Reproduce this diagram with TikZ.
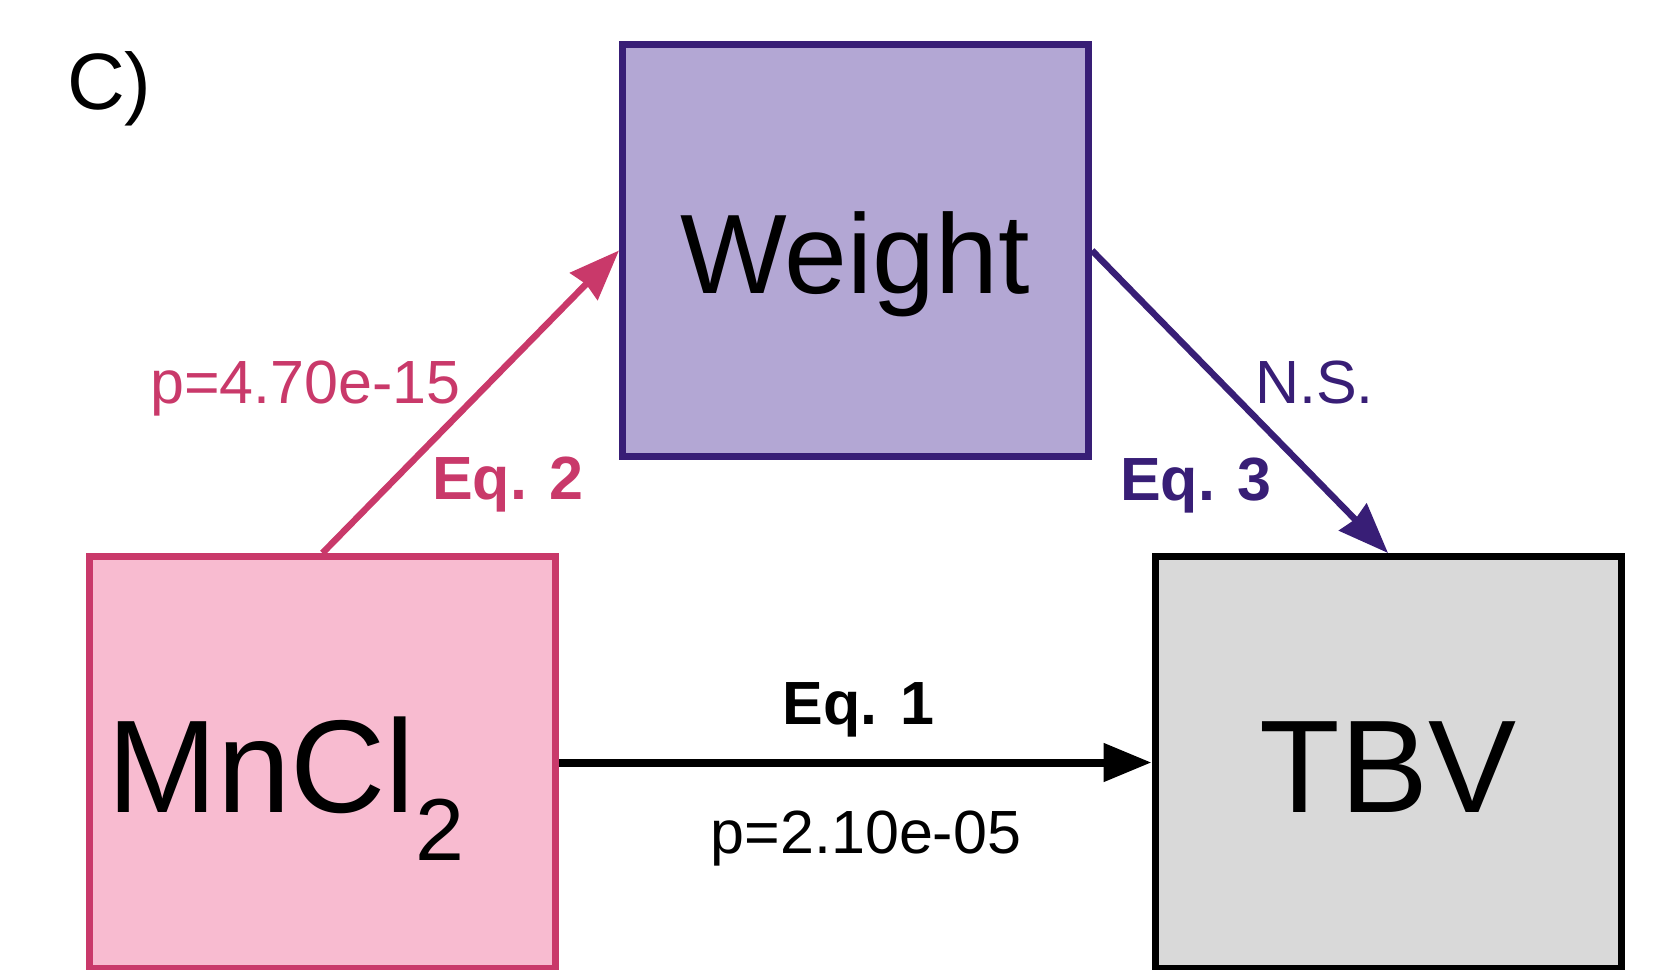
\documentclass[tikz,border=0pt]{standalone}
\usepackage{fontspec}
\setmainfont{Liberation Sans}
\usetikzlibrary{arrows.meta}
\definecolor{pinkfill}{RGB}{248,187,208}
\definecolor{pinkline}{RGB}{201,57,106}
\definecolor{purplefill}{RGB}{179,167,212}
\definecolor{purpleline}{RGB}{56,30,118}
\definecolor{grayfill}{RGB}{217,217,217}
\tikzset{
  varbox/.style={draw, line width=7pt, minimum width=466pt, minimum height=412pt, inner sep=0pt},
  bigtext/.style={inner sep=0pt, font=\fontsize{132}{132}\selectfont},
  smalltext/.style={inner sep=0pt, font=\fontsize{61}{61}\selectfont},
  eqtext/.style={inner sep=0pt, font=\fontsize{61}{61}\selectfont\bfseries},
  conn/.style={line width=6.5pt, -{Stealth[length=50pt, width=38pt, inset=3pt]}},
  mainconn/.style={line width=8pt, -{Triangle[length=48pt, width=37pt]}},
}
\begin{document}
\begin{tikzpicture}[x=1pt,y=-1pt]
\useasboundingbox (0,0) rectangle (1662,969);
\clip (0,0) rectangle (1662,969);
% panel letter
\node[anchor=base west, inner sep=0pt, font=\fontsize{80}{80}\selectfont] (panel) at (67,109) {C)};
% boxes
\node[varbox, fill=purplefill, draw=purpleline] (weight) at (855.5,250.5) {};
\node[varbox, fill=pinkfill, draw=pinkline] (mncl) at (322.5,762.5) {};
\node[varbox, fill=grayfill, draw=black] (tbv) at (1388,762.5) {};
% box texts
\node[anchor=base, inner sep=0pt, font=\fontsize{113}{113}\selectfont] (weighttxt) at (855,293) {Weight};
\node[anchor=base west, bigtext] (mncltxt) at (107,812) {MnCl\raisebox{-48pt}{\fontsize{88}{88}\selectfont 2}};
\node[anchor=base, bigtext] (tbvtxt) at (1388,812) {TBV};
% connectors
\draw[conn, pinkline] (mncl.north) -- (weight.west);
\draw[conn, purpleline] (weight.east) -- (tbv.north);
\draw[mainconn, black] (mncl.east) -- (tbv.west);
% labels
\node[anchor=base west, smalltext, text=pinkline] (p2) at (150,403) {p=4.70e-15};
\node[anchor=base west, eqtext, text=pinkline] (eq2) at (432,499) {Eq. 2};
\node[anchor=base west, smalltext, text=purpleline] (ns) at (1255,403) {N.S.};
\node[anchor=base west, eqtext, text=purpleline] (eq3) at (1120,500) {Eq. 3};
\node[anchor=base, eqtext] (eq1) at (858.5,724) {Eq. 1};
\node[anchor=base, smalltext] (p1) at (866,853) {p=2.10e-05};
\end{tikzpicture}
\end{document}
